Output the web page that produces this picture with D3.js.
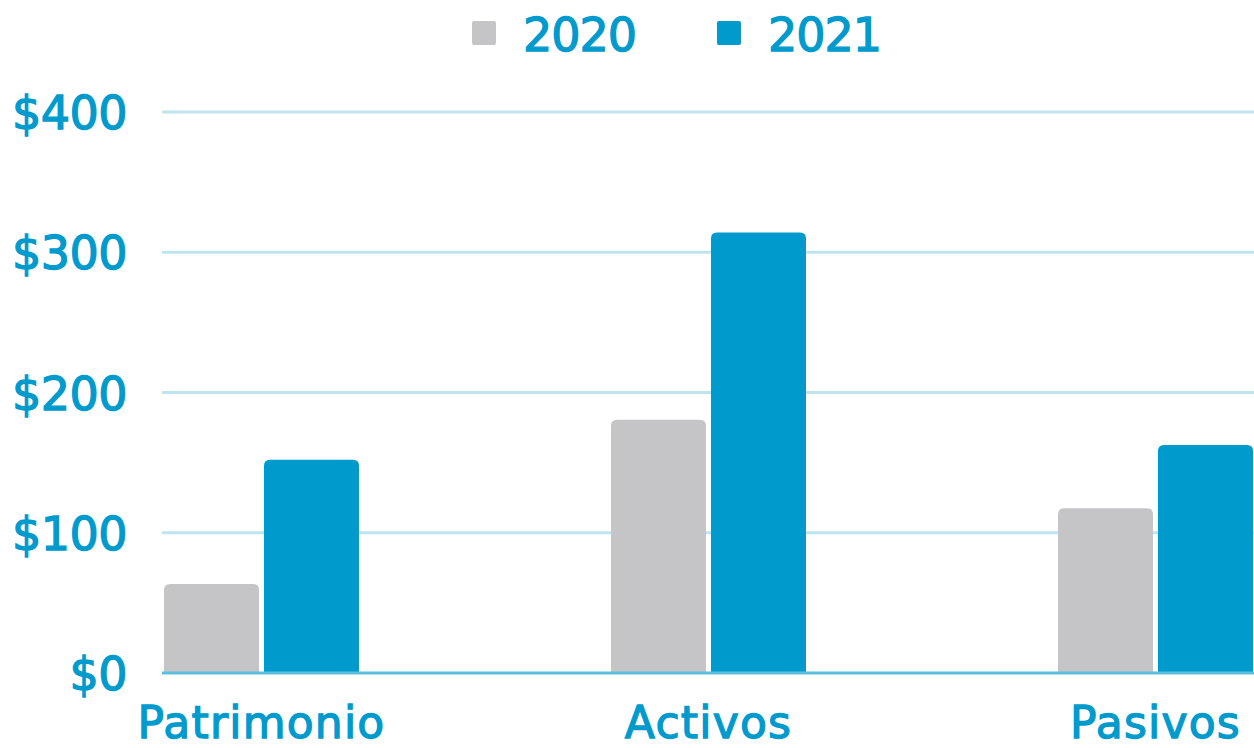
<!DOCTYPE html>
<html>
<head>
<meta charset="utf-8">
<script src="https://cdn.jsdelivr.net/npm/d3@7"></script>
<style>
  html, body { margin: 0; padding: 0; background: #fff; }
  text { font-family: "DejaVu Sans", sans-serif; fill: #009acd; stroke: #009acd; stroke-width: 1.3px; }
</style>
</head>
<body>
<svg id="chart" width="1254" height="748"></svg>
<script>
// Data.
const categories = ['Patrimonio', 'Activos', 'Pasivos'];
const years = ['2020', '2021'];
const values2020 = [63.5, 180.5, 117.5];
const values2021 = [152, 314, 162.5];
const yTicks = [0, 100, 200, 300, 400];

const colors = { '2020': '#c5c5c7', '2021': '#009acd' };

const svg = d3.select('#chart');

// Scales.
const x0 = d3.scaleBand().domain(categories).range([164, 1253])
  .paddingInner(252 / 447).paddingOuter(0);
const x1 = d3.scaleBand().domain(years).range([0, x0.bandwidth()])
  .paddingInner(0.05);
const y = d3.scaleLinear().domain([0, 400]).range([673, 112]);

// Gridlines.
svg.append('g').selectAll('line')
  .data(yTicks.filter(d => d > 0))
  .join('line')
  .attr('x1', 162).attr('x2', 1254)
  .attr('y1', d => y(d)).attr('y2', d => y(d))
  .attr('stroke', '#bfe4f0').attr('stroke-width', 3);

// Y labels.
svg.append('g').selectAll('text')
  .data(yTicks)
  .join('text')
  .attr('x', 127)
  .attr('y', d => y(d) + 17)
  .attr('text-anchor', 'end')
  .attr('font-size', 46)
  .attr('letter-spacing', -0.5)
  .text(d => '$' + d);

// Bars with rounded tops.
function topRounded(x, yTop, w, h, r) {
  r = Math.min(r, h, w / 2);
  return `M${x},${yTop + h}V${yTop + r}Q${x},${yTop} ${x + r},${yTop}` +
    `H${x + w - r}Q${x + w},${yTop} ${x + w},${yTop + r}V${yTop + h}Z`;
}

const rows = categories.map((c, i) => ({ cat: c, vals: [values2020[i], values2021[i]] }));

const groups = svg.append('g').selectAll('g')
  .data(rows)
  .join('g')
  .attr('transform', d => `translate(${x0(d.cat)},0)`);

groups.selectAll('path')
  .data(d => years.map((yr, j) => ({ yr, v: d.vals[j] })))
  .join('path')
  .attr('fill', d => colors[d.yr])
  .attr('d', d => topRounded(x1(d.yr), y(d.v), x1.bandwidth(), y(0) - y(d.v), 6));

// Baseline.
svg.append('line')
  .attr('x1', 162).attr('x2', 1254)
  .attr('y1', y(0)).attr('y2', y(0))
  .attr('stroke', '#5cbfe0').attr('stroke-width', 3);

// Category labels.
svg.append('g').selectAll('text')
  .data(categories)
  .join('text')
  .attr('x', d => x0(d) + x0.bandwidth() / 2)
  .attr('y', 738)
  .attr('text-anchor', 'middle')
  .attr('font-size', 44)
  .attr('letter-spacing', 1.2)
  .text(d => d);

// Legend.
const legendX = [472, 717];
const legend = svg.append('g').selectAll('g')
  .data(years)
  .join('g')
  .attr('transform', (d, i) => `translate(${legendX[i]},0)`);

legend.append('rect')
  .attr('x', 0).attr('y', 21).attr('width', 24).attr('height', 24).attr('rx', 2)
  .attr('fill', d => colors[d]);

legend.append('text')
  .attr('x', 51).attr('y', 51)
  .attr('font-size', 46)
  .attr('letter-spacing', -1)
  .text(d => d);
</script>
</body>
</html>
